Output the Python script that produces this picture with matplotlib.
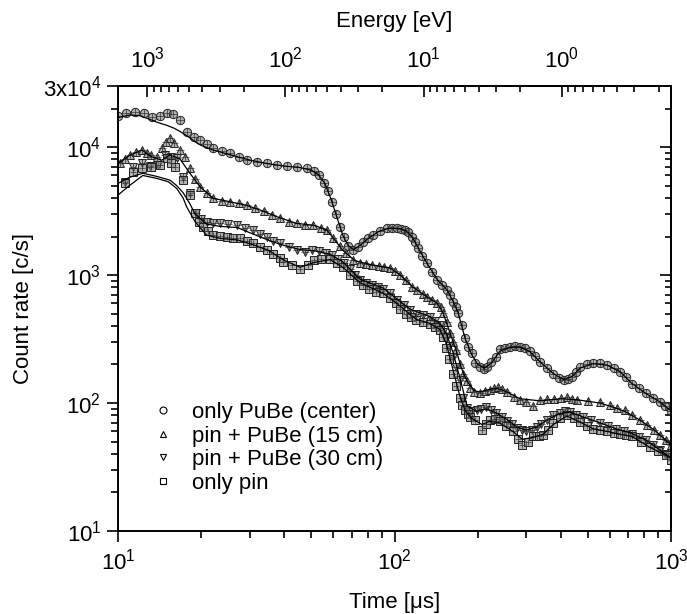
import matplotlib
matplotlib.use("Agg")
import matplotlib.pyplot as plt
from matplotlib.lines import Line2D
from matplotlib.ticker import FixedLocator, FuncFormatter, LogLocator, NullFormatter
import numpy as np

plt.rcParams.update({
    "font.family": ["Liberation Sans", "DejaVu Sans"],
    "mathtext.fontset": "custom",
    "mathtext.rm": "Liberation Sans",
    "mathtext.it": "Liberation Sans:italic",
    "mathtext.default": "regular",
    "font.size": 16,
})

###############################################################################
# measured count rates (markers)

t_pube = [10.0, 10.7, 11.5, 12.4, 13.3, 14.2, 15.0, 15.8, 16.7, 17.8, 18.8, 19.8,
          21.0, 22.1, 23.7, 25.4, 27.3, 29.3, 31.8, 34.6, 37.5, 40.9, 44.5, 48.3,
          51.0, 53.5, 55.5, 57.5, 59.5, 61.5, 63.5, 65.7, 68.0, 70.5, 73.5, 76.9,
          80.0, 83.6, 88.5, 94.0, 98.0, 102, 105.5, 109, 112, 115.6, 118.5, 121.6,
          126, 131, 137, 142.6, 149, 155, 159, 163, 166.5, 170, 175, 180, 185, 190,
          196, 203.7, 210, 216, 224, 232, 241, 250, 262, 273, 284, 296, 309, 322,
          336, 355, 375, 392, 410, 425, 438, 452, 469, 495, 522, 555, 587, 620,
          654, 687, 720, 765, 810, 860, 912, 955, 1000]
y_pube = [17500, 18300, 18900, 18400, 17300, 17500, 18400, 18000, 16300, 13000,
          12000, 11300, 10500, 9800, 9300, 8970, 8400, 7900, 7700, 7500, 7300, 7100,
          7000, 6860, 6500, 6000, 5200, 4500, 3750, 3000, 2380, 1990, 1700, 1580,
          1650, 1820, 1930, 2050, 2200, 2320, 2350, 2330, 2300, 2250, 2150, 1990,
          1800, 1625, 1420, 1240, 1060, 915, 830, 764, 700, 618, 560, 505, 410, 320,
          275, 246, 205, 190, 186, 190, 210, 230, 262, 270, 275, 277, 275, 268, 253,
          232, 210, 188, 170, 158, 151, 155, 160, 175, 192, 200, 204, 204, 198, 188,
          176, 160, 142, 130, 119, 110, 102, 94, 86]

t_15 = [10.2, 10.6, 11.05, 11.6, 12.2, 12.7, 13.2, 13.8, 14.4, 14.9, 15.4, 16.0,
        16.7, 17.4, 18.2, 19.0, 19.8, 20.9, 22.1, 23.7, 25.4, 27.3, 29.2, 31.4,
        33.6, 36.0, 38.5, 41.4, 44.3, 47.5, 50.9, 54.0, 56.9, 60.0, 63.5, 67, 71,
        75, 79, 83, 88, 92, 96, 100, 105, 110, 116, 121, 127, 131, 137, 143, 147,
        150, 155, 159, 163, 167, 172.6, 177, 183, 187, 194, 204, 212, 221, 229,
        236, 245, 255, 270, 284, 300, 318, 336, 355, 378, 400, 420, 440, 458, 500,
        553, 600, 640, 680, 725, 772, 820, 870, 915, 960, 1000]
y_15 = [7460, 8000, 8660, 9200, 9480, 9000, 8660, 8300, 9900, 10900, 11700, 10800,
        9480, 8300, 6900, 5600, 4900, 4400, 3970, 3800, 3740, 3650, 3500, 3330,
        3150, 2950, 2800, 2600, 2530, 2480, 2450, 2350, 2250, 1950, 1700, 1480,
        1320, 1250, 1220, 1200, 1180, 1160, 1140, 1080, 1000, 910, 810, 760, 710,
        675, 640, 600, 560, 503, 430, 350, 300, 259, 200, 170, 148, 130, 121, 120,
        125, 126, 132, 134, 128, 123, 112, 105, 102, 94, 105, 107, 108, 110, 112,
        108, 105, 104, 102, 96, 92, 88, 81, 74, 67, 61, 56, 51, 47]

t_30 = [10.6, 11.35, 12.2, 13.05, 14.0, 14.8, 15.5, 16.3, 17.2, 18.2, 19.2, 20.0,
        20.9, 22.1, 23.4, 25.0, 26.9, 28.8, 30.9, 32.7, 34.5, 36.5, 38.5, 41.5,
        44.3, 47.5, 50.5, 53.5, 56.5, 59.5, 62.5, 65.5, 69, 72, 75, 79, 83, 87, 91,
        96, 102, 108, 114, 120, 127, 134, 140, 146, 150, 154, 158, 163, 167, 172,
        177, 183, 190, 198, 206, 215, 224, 233, 245, 256, 266, 277, 288, 300, 313,
        327, 340, 355, 375, 397, 415, 431, 455, 480, 515, 553, 590, 632, 675, 720,
        765, 810, 860, 912, 955, 1000]
y_30 = [5360, 7020, 7460, 7110, 7230, 8660, 8400, 8150, 5860, 4340, 3030, 2750,
        2610, 2560, 2530, 2500, 2460, 2350, 2250, 2100, 1990, 1850, 1770, 1650,
        1570, 1520, 1560, 1550, 1500, 1430, 1330, 1250, 1120, 1000, 914, 860, 830,
        800, 780, 720, 640, 580, 533, 500, 485, 470, 440, 410, 360, 320, 280, 230,
        190, 150, 110, 92, 86, 88, 90, 93, 88, 84, 78, 73, 68, 64, 62, 60, 62, 65,
        69, 74, 80, 84, 86, 85, 81, 78, 74, 70, 66, 63, 60, 57, 54, 51, 47, 43, 40,
        37]

t_pin = [10.6, 11.35, 12.2, 13.2, 14.2, 15.0, 15.5, 16.1, 17.2, 18.2, 18.98, 19.6,
         20.3, 21.2, 22.1, 23.4, 24.7, 26.0, 27.6, 29.2, 30.9, 32.6, 34.5, 36.5,
         38.5, 39.6, 42.5, 45.5, 48.5, 51, 54, 58.5, 62, 65, 69, 73, 77, 81, 86, 91,
         96, 101, 105, 110, 115, 120, 127, 134, 140, 146, 150, 154, 158, 163, 167,
         172, 176, 180, 184, 187, 195, 207, 214, 221, 230, 240, 254, 268, 280, 290,
         304, 318, 332, 345, 360, 375, 397, 420, 445, 469, 495, 522, 555, 587, 620,
         654, 690, 720, 780, 840, 900, 960, 1000]
y_pin = [5200, 6410, 6820, 7020, 7230, 8150, 7500, 7020, 5520, 4220, 3030, 2600,
         2380, 2200, 2050, 2010, 1990, 1960, 1935, 1850, 1770, 1670, 1570, 1450,
         1350, 1270, 1200, 1120, 1200, 1310, 1330, 1340, 1250, 1150, 1000, 900, 830,
         780, 740, 720, 660, 600, 540, 500, 470, 445, 430, 415, 395, 370, 330, 270,
         220, 170, 135, 110, 96, 88, 82, 78, 74, 61, 68, 74, 75, 72, 66, 60, 52, 47,
         50, 55, 55, 56, 62, 70, 76, 80, 76, 71, 66, 63, 61, 60, 58, 57, 56, 55, 50,
         45, 42, 39, 36]

###############################################################################
# fitted curves (solid lines)

tf_pube = [10, 11, 12, 13, 14, 15, 16, 17, 18, 19, 20, 22, 25, 30, 35, 40, 45, 50,
           53, 56, 59, 62, 65, 68, 71, 75, 80, 88, 96, 104, 110, 116, 122, 131, 143,
           155, 163, 170, 180, 190, 200, 212, 224, 241, 262, 284, 309, 336, 375,
           410, 440, 470, 522, 587, 654, 720, 810, 912, 1000]
yf_pube = [17000, 17800, 17600, 16500, 15500, 14800, 14000, 13000, 12000, 11000,
           10300, 9500, 8800, 7900, 7400, 7100, 6950, 6600, 6100, 5200, 3900, 2800,
           2050, 1700, 1580, 1700, 1920, 2200, 2330, 2310, 2220, 1980, 1620, 1240,
           915, 764, 620, 505, 320, 240, 200, 188, 205, 255, 273, 274, 252, 210,
           170, 152, 162, 188, 203, 198, 176, 143, 119, 102, 87]

tf_15 = [10, 11, 12.2, 13.2, 14.4, 15.4, 16.7, 18.2, 19.8, 22.1, 25.4, 29.2, 33.6,
         38.5, 44.3, 50.9, 56.9, 60, 65, 72, 83, 96, 105, 116, 131, 143, 150, 159,
         167, 175, 183, 194, 204, 221, 236, 255, 284, 336, 400, 458, 553, 626, 680,
         772, 870, 960, 1000]
yf_15 = [7460, 8600, 9480, 8400, 7900, 8660, 8150, 6240, 4900, 3970, 3740, 3500,
         3150, 2800, 2530, 2450, 2250, 1950, 1560, 1290, 1200, 1140, 1000, 810, 675,
         600, 503, 350, 259, 185, 148, 125, 122, 128, 130, 122, 108, 104, 108, 106,
         100, 92, 86, 73.6, 61.5, 51, 47]

tf_30 = [10, 11, 12.3, 13.8, 15.4, 16.3, 17.2, 18.2, 19, 20.9, 23.4, 27, 30, 35.5,
         40, 45.5, 52, 58.5, 65, 75, 91, 102, 114, 134, 146, 154, 163, 172, 183, 198,
         215, 233, 256, 277, 300, 327, 355, 397, 431, 480, 553, 632, 720, 810, 912,
         1000]
yf_30 = [5200, 5800, 6240, 5900, 5520, 5000, 4400, 3600, 3000, 2500, 2400, 2350,
         2140, 1850, 1700, 1580, 1540, 1450, 1270, 930, 790, 650, 540, 475, 420, 350,
         246, 160, 95, 86, 90, 84, 74, 65, 61.5, 65, 73.6, 83, 85, 78, 70, 63, 58,
         51.4, 43, 37]

tf_pin = [10, 11, 12.3, 13.8, 15.2, 16.3, 17.2, 17.7, 19, 20.9, 23.4, 27, 30, 35,
          40, 45.5, 51, 58.5, 65, 75, 91, 102, 120, 134, 146, 154, 163, 172, 180, 190,
          207, 221, 240, 268, 290, 318, 345, 375, 420, 469, 522, 587, 654, 720, 840,
          960, 1000]
yf_pin = [4220, 5000, 6000, 5690, 5360, 4750, 4000, 3420, 2610, 2050, 1935, 1880,
          1760, 1560, 1300, 1150, 1250, 1320, 1150, 870, 720, 600, 450, 420, 375,
          290, 180, 115, 88, 76, 68, 72, 70, 60, 52, 54, 57, 68, 79, 71, 63, 60, 57,
          55, 45, 39, 37]

labels = ["only PuBe (center)", "pin + PuBe (15 cm)", "pin + PuBe (30 cm)", "only pin"]
markers = ["o", "^", "v", "s"]
energy_ticks = [1e3, 1e2, 1e1, 1e0]

# neutron energy from time of flight, E = 5227 L^2 / t^2 (eV, m, us)
flight_path = 5.58
C_E = 5227.0 * flight_path**2


def t2e(t):
    t = np.clip(np.asarray(t, dtype=float), 1e-6, None)
    return C_E / t**2


def e2t(e):
    e = np.clip(np.asarray(e, dtype=float), 1e-12, None)
    return np.sqrt(C_E / e)


def pow_label(v, pos):
    return r"10$^{%d}$" % int(round(np.log10(v)))

###############################################################################

fig = plt.figure(figsize=(6.87, 6.14), dpi=100)
ax = fig.add_axes([118/687, 1-531/614, 553/687, 445/614])

series = [(t_pube, y_pube, tf_pube, yf_pube),
          (t_15, y_15, tf_15, yf_15),
          (t_30, y_30, tf_30, yf_30),
          (t_pin, y_pin, tf_pin, yf_pin)]

for (t, y, tf, yf), m in zip(series, markers):
    ax.plot(tf, yf, "-", color="black", linewidth=0.9, zorder=3)
    ms = 6.0 if m != "s" else 5.2
    ax.plot(t, y, linestyle="none", marker=m, markersize=ms,
            markerfacecolor=(0.5, 0.5, 0.5, 0.6), markeredgecolor="#222222",
            markeredgewidth=0.7, zorder=2)
    ax.plot(t, y, linestyle="none", marker="+", markersize=ms*0.9,
            color="#333333", markeredgewidth=0.5, zorder=2)

ax.set_xscale("log")
ax.set_yscale("log")
ax.set_xlim(10, 1000)
ax.set_ylim(10, 3e4)

ax.yaxis.set_major_locator(FixedLocator([10, 100, 1000, 10000, 30000]))
ax.yaxis.set_minor_locator(LogLocator(base=10, subs=np.arange(2, 10)))


def ylab(v, pos):
    if np.isclose(v, 3e4):
        return r"3x10$^{4}$"
    return pow_label(v, pos)


ax.yaxis.set_major_formatter(FuncFormatter(ylab))
ax.yaxis.set_minor_formatter(NullFormatter())
ax.xaxis.set_major_formatter(FuncFormatter(pow_label))
ax.xaxis.set_minor_formatter(NullFormatter())

for s in ax.spines.values():
    s.set_linewidth(1.4)

ax.tick_params(which="both", direction="out", width=1.2, labelsize=16,
               top=False, right=False)
ax.tick_params(which="major", length=8)
ax.tick_params(which="minor", length=5)
ax.tick_params(axis="x", pad=5)
ax.tick_params(axis="y", pad=4)

# right axis, ticks inside
axr = ax.secondary_yaxis("right", functions=(lambda v: v, lambda v: v))
axr.yaxis.set_major_locator(FixedLocator([10, 100, 1000, 10000]))
axr.yaxis.set_minor_locator(LogLocator(base=10, subs=np.arange(2, 10)))
axr.tick_params(which="both", direction="in", width=1.2, labelright=False)
axr.tick_params(which="major", length=8)
axr.tick_params(which="minor", length=4)
axr.spines["right"].set_linewidth(1.4)

# top axis in energy
axt = ax.secondary_xaxis("top", functions=(t2e, e2t))
axt.xaxis.set_major_locator(FixedLocator(energy_ticks))
axt.tick_params(which="both", direction="in", width=1.2, labelsize=16, pad=10)
axt.tick_params(which="major", length=8)
axt.tick_params(which="minor", length=4)
axt.xaxis.set_major_formatter(FuncFormatter(pow_label))
axt.xaxis.set_minor_formatter(NullFormatter())
axt.spines["top"].set_linewidth(1.4)
axt.set_xlabel("Energy [eV]", fontsize=16, labelpad=14)

ax.set_xlabel("Time [μs]", fontsize=16, labelpad=12)
ax.set_ylabel("Count rate [c/s]", fontsize=16, labelpad=6)

handles = [Line2D([], [], linestyle="none", marker=m, markersize=5,
                  markerfacecolor="white", markeredgecolor="black",
                  markeredgewidth=0.8) for m in markers]
ax.legend(handles, labels, loc="upper left", bbox_to_anchor=(0.045, 0.31),
          frameon=False, fontsize=16, handlelength=1.0, handletextpad=0.8,
          labelspacing=0.12, borderaxespad=0)

fig.savefig("out.png", dpi=100)
